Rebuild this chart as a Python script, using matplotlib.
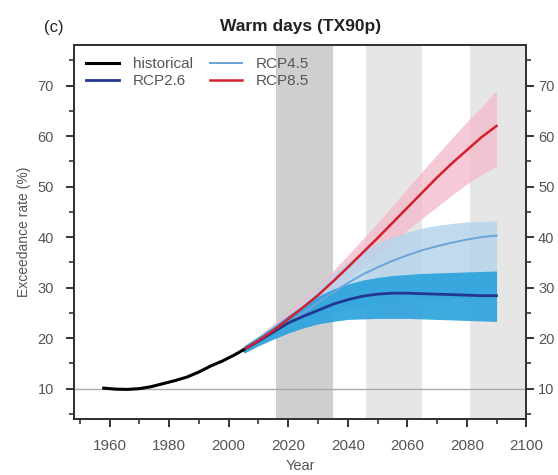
import numpy as np
import matplotlib
matplotlib.use("Agg")
import matplotlib.pyplot as plt

plt.rcParams['font.family'] = ['Liberation Sans', 'DejaVu Sans']

# historical run
hist_years = [1958, 1962, 1966, 1970, 1974, 1978, 1982, 1986, 1990, 1994, 1998, 2002, 2005]
hist_vals = [10.1, 9.9, 9.85, 10.0, 10.4, 11.0, 11.6, 12.3, 13.3, 14.5, 15.5, 16.7, 17.7]

# scenario runs, 5-year steps
rcp_years = [2005, 2010, 2015, 2020, 2025, 2030, 2035, 2040, 2045, 2050,
             2055, 2060, 2065, 2070, 2075, 2080, 2085, 2090]

rcp85 = [17.7, 19.5, 21.5, 23.8, 26.1, 28.5, 31.2, 34.0, 36.9, 39.8,
         42.8, 45.8, 48.8, 51.8, 54.6, 57.2, 59.8, 62.0]
rcp85_lo = [17.0, 18.7, 20.5, 22.5, 24.6, 26.8, 29.2, 31.6, 34.0, 36.5,
            38.9, 41.4, 43.7, 46.0, 48.3, 50.5, 52.4, 54.0]
rcp85_hi = [18.5, 20.5, 22.8, 25.3, 27.9, 30.4, 33.3, 36.4, 39.6, 42.8,
            46.2, 49.6, 53.0, 56.3, 59.6, 62.8, 65.8, 69.0]

rcp45 = [17.7, 19.4, 21.2, 23.0, 25.0, 27.0, 29.0, 30.9, 32.6, 34.0,
         35.3, 36.4, 37.4, 38.2, 38.9, 39.5, 40.0, 40.3]
rcp45_lo = [17.0, 18.5, 20.0, 21.3, 22.6, 23.8, 24.8, 25.6, 26.2, 26.7,
            27.0, 27.3, 27.5, 27.6, 27.8, 27.8, 27.9, 28.0]
rcp45_hi = [18.4, 20.3, 22.5, 24.7, 27.3, 30.0, 32.6, 35.0, 37.1, 38.8,
            40.0, 41.0, 41.8, 42.3, 42.7, 43.0, 43.1, 43.2]

rcp26 = [17.7, 19.4, 21.2, 23.0, 24.3, 25.5, 26.7, 27.6, 28.3, 28.7,
         28.9, 28.9, 28.8, 28.7, 28.6, 28.5, 28.4, 28.4]
rcp26_lo = [17.0, 18.5, 19.8, 21.0, 22.0, 22.8, 23.3, 23.7, 23.8, 23.9,
            23.9, 23.9, 23.8, 23.7, 23.6, 23.5, 23.4, 23.3]
rcp26_hi = [18.4, 20.3, 22.3, 24.5, 26.5, 28.3, 29.7, 30.7, 31.5, 32.0,
            32.4, 32.6, 32.8, 32.9, 33.0, 33.1, 33.2, 33.3]

# averaging periods
periods = [(2016, 2035, '#cfcfcf'), (2046, 2065, '#e6e6e6'), (2081, 2100, '#e6e6e6')]

yticks = np.arange(10, 71, 10)
yminor = np.arange(5, 78, 5)
ylim = (4, 78)

fig = plt.figure(figsize=(5.58, 4.75), dpi=100)
ax = fig.add_axes([0.1326, 0.118, 0.8106, 0.787])

for start, end, col in periods:
    ax.axvspan(start, end, color=col, lw=0, zorder=0)

ax.axhline(10, color='#aaaaaa', lw=1.0, zorder=1)

ax.fill_between(rcp_years, rcp85_lo, rcp85_hi, color='#f4b8c9', alpha=0.75, lw=0, zorder=2)
ax.fill_between(rcp_years, rcp45_lo, rcp45_hi, color='#b6d4eb', alpha=0.85, lw=0, zorder=2)
ax.fill_between(rcp_years, rcp26_lo, rcp26_hi, color='#29a2dc', alpha=0.9, lw=0, zorder=2)

ax.plot(rcp_years, rcp45, color='#6aa4d8', lw=1.4, zorder=3, label='RCP4.5')
ax.plot(rcp_years, rcp26, color='#23368f', lw=2.0, zorder=3, label='RCP2.6')
ax.plot(rcp_years, rcp85, color='#d3202c', lw=1.8, zorder=4, label='RCP8.5')
ax.plot(hist_years, hist_vals, color='black', lw=2.2, zorder=5, label='historical')

ax.set_xlim(1948, 2100)
ax.set_ylim(*ylim)
ax.set_xticks(np.arange(1960, 2101, 20))
ax.set_xticks(np.arange(1950, 2101, 10), minor=True)
ax.set_yticks(yticks)
ax.set_yticks(yminor, minor=True)

# right-hand axis copy with tighter label pad so labels stay inside the image
axr = ax.twinx()
axr.set_ylim(*ylim)
axr.set_yticks(yticks)
axr.set_yticks(yminor, minor=True)

for a in (ax, axr):
    a.tick_params(axis='both', which='both', direction='out', colors='#333333',
                  labelcolor='#555555', pad=9)
    a.tick_params(which='major', length=5.5, width=1.4)
    a.tick_params(which='minor', length=3.5, width=1.2)
    for s in a.spines.values():
        s.set_linewidth(1.4)
        s.set_color('#333333')
ax.tick_params(axis='x', labelsize=11)
ax.tick_params(axis='y', labelsize=10.5)
axr.tick_params(axis='y', labelsize=10.5, pad=3)

ax.set_xlabel('Year', fontsize=10.5, color='#555555', labelpad=4)
ax.set_ylabel('Exceedance rate (%)', fontsize=10, color='#555555', labelpad=5)
ax.set_title('Warm days (TX90p)', fontsize=12.5, fontweight='bold', color='#222222', pad=10)
fig.text(0.078, 0.932, '(c)', fontsize=12, color='#222222')

h, l = ax.get_legend_handles_labels()
order = [3, 1, 0, 2]
leg = ax.legend([h[i] for i in order], [l[i] for i in order], loc='upper left', ncol=2,
                frameon=False, fontsize=11, handlelength=2.15, columnspacing=1.1,
                labelspacing=0.2, borderaxespad=0.4, handletextpad=0.9)
for t in leg.get_texts():
    t.set_color('#555555')

fig.savefig('out.png', dpi=100)
